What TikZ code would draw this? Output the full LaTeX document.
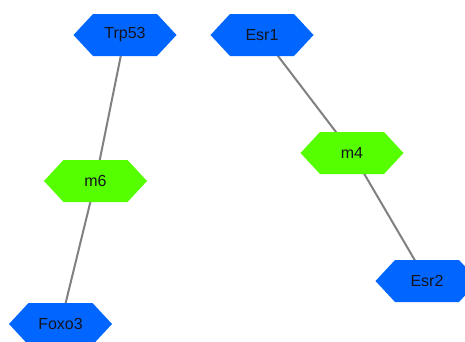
\documentclass[tikz,border=0pt]{standalone}
\usepackage{fontspec}
\setmainfont{Liberation Sans}
\pgfdeclarelayer{background}
\pgfsetlayers{background,main}
\definecolor{geneblue}{RGB}{0,102,255}
\definecolor{modgreen}{RGB}{85,255,0}
\definecolor{edgegray}{RGB}{128,128,128}
\definecolor{labelink}{RGB}{20,20,30}
\tikzset{
  lbl/.style={inner sep=0pt, text=labelink, font=\fontsize{16}{19}\selectfont},
  gene/.style={fill=geneblue},
  module/.style={fill=modgreen},
  link/.style={draw=edgegray, line width=2pt},
}
% hexagon node: name, x, y, fill style, label
\newcommand\hexnode[5]{%
  \fill[#4] (#2,#3) ++(-51.5,0) -- ++(19.5,-21) -- ++(64,0) -- ++(19.5,21)
    -- ++(-19.5,21) -- ++(-64,0) -- cycle;
  \node[lbl] (#1) at (#2,#3) {#5};}
\begin{document}
\begin{tikzpicture}[x=1pt,y=-1pt]
  \useasboundingbox (0,0) rectangle (465,341);
  \begin{scope}
    \clip (0,0) rectangle (465,341);
    \hexnode{trp}{125}{35}{gene}{Trp53}
    \hexnode{esra}{262}{35}{gene}{Esr1}
    \hexnode{msix}{95.5}{181}{module}{m6}
    \hexnode{mfour}{352}{153}{module}{m4}
    \hexnode{foxo}{60.5}{324}{gene}{Foxo3}
    \hexnode{esrb}{427}{281}{gene}{Esr2}
    \begin{pgfonlayer}{background}
      \draw[link] (trp.center) -- (msix.center);
      \draw[link] (msix.center) -- (foxo.center);
      \draw[link] (esra.center) -- (mfour.center);
      \draw[link] (mfour.center) -- (esrb.center);
    \end{pgfonlayer}
  \end{scope}
\end{tikzpicture}
\end{document}
